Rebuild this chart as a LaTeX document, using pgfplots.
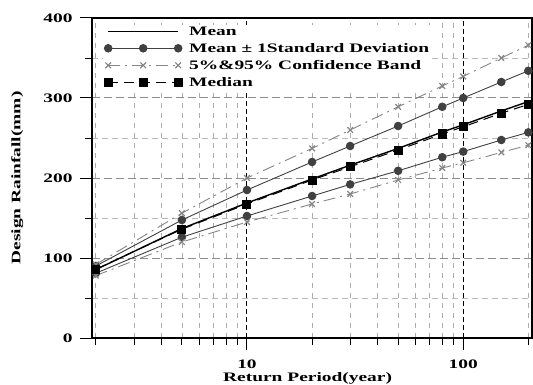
\documentclass[border=0pt]{standalone}
\usepackage{fontspec}
\setmainfont{Liberation Serif}[FakeStretch=1.5]
\usepackage{pgfplots}
\pgfplotsset{compat=1.18}
\definecolor{sdcol}{HTML}{404040}
\definecolor{cicol}{HTML}{858585}
\newcommand{\lf}{\bfseries\fontsize{13}{15}\selectfont}
\begin{document}
\begin{tikzpicture}
\begin{axis}[
  at={(0,0)}, anchor=south west,
  scale only axis, width=440bp, height=320bp,
  xmode=log, log basis x=10,
  xmin=1.92, xmax=208, ymin=0, ymax=400,
  xtick={10,100}, xticklabels={10,100},
  minor xtick={2,3,4,5,6,7,8,9,20,30,40,50,60,70,80,90,200},
  ytick={0,100,200,300,400}, minor y tick num=1,
  tick pos=left, tick align=outside,
  major tick length=12bp, minor tick length=7bp,
  every tick/.style={black, line width=1bp},
  every minor tick/.style={black, line width=0.8bp},
  /pgf/number format/assume math mode=true,
  ticklabel style={font=\lf},
  yticklabel style={xshift=-4bp},
  xticklabel style={yshift=-6bp},
  grid=both,
  major x grid style={black, line width=1bp, dash pattern=on 5bp off 3bp},
  minor x grid style={gray!65, line width=0.7bp, dash pattern=on 5bp off 5bp},
  major y grid style={gray!90, line width=1bp, dash pattern=on 8bp off 4bp},
  minor y grid style={gray!55, line width=0.8bp, dash pattern=on 6bp off 4bp},
  axis line style={black, line width=1.1bp},
  xlabel={Return Period(year)}, ylabel={Design Rainfall(mm)},
  xlabel style={font=\lf, at={(axis description cs:0.49,-0.125)}, anchor=center},
  ylabel style={font=\lf, at={(axis description cs:-0.17,0.5)}, anchor=center},
  legend image code/.code={\draw[mark repeat=1,mark phase=1,#1] plot coordinates {(0bp,0bp) (35bp,0bp) (70bp,0bp)};
    \pgfpathrectangle{\pgfpoint{-5bp}{-4.5bp}}{\pgfpoint{77bp}{9bp}}\pgfusepath{}},
  legend style={at={(axis description cs:0.025,0.98)}, anchor=north west,
    fill=white, draw=none, font=\lf, row sep=2.5bp, inner sep=0bp, column sep=6bp,
    nodes={inner xsep=1bp}},
  legend cell align=left,
]
\addplot[black, line width=1.4bp] coordinates {
 (2,85.5) (5,136.8) (10,168.8) (20,198.8) (30,216) (50,237) (80,257.5) (100,266.5) (150,283.8) (200,295.5)};
\addlegendentry{Mean}
\addplot[sdcol, line width=0.9bp, mark=*, mark size=3.8bp, mark options={fill=sdcol}] coordinates {
 (2,90) (5,147.5) (10,185) (20,220) (30,240) (50,265) (80,289) (100,300) (150,320) (200,334)};
\addlegendentry{Mean ± 1Standard Deviation}
\addplot[sdcol, line width=0.9bp, mark=*, mark size=3.8bp, mark options={fill=sdcol}, forget plot] coordinates {
 (2,81) (5,126) (10,152.5) (20,177.5) (30,192) (50,209) (80,226) (100,233) (150,247.5) (200,257)};
\addplot[cicol, line width=0.9bp, dash pattern=on 12bp off 5bp on 2bp off 5bp, mark=x, mark size=4bp, mark options={solid, line width=1.2bp}] coordinates {
 (2,92) (5,156) (10,200) (20,237) (30,260) (50,289) (80,315) (100,327) (150,350) (200,366)};
\addlegendentry{5\%\&95\% Confidence Band}
\addplot[cicol, line width=0.9bp, dash pattern=on 12bp off 5bp on 2bp off 5bp, mark=x, mark size=4bp, mark options={solid, line width=1.2bp}, forget plot] coordinates {
 (2,78) (5,120) (10,145) (20,167.5) (30,180) (50,197.5) (80,212.5) (100,219) (150,232) (200,241)};
\addplot[black, line width=1bp, dash pattern=on 10bp off 6bp, mark=square*, mark size=4bp, mark options={solid}] coordinates {
 (2,86) (5,136) (10,167.5) (20,197.5) (30,214) (50,235) (80,255) (100,264) (150,281) (200,292)};
\addlegendentry{Median}
\end{axis}
\pgfresetboundingbox
\path (-92bp,-47bp) rectangle (441bp,338bp);
\end{tikzpicture}
\end{document}
